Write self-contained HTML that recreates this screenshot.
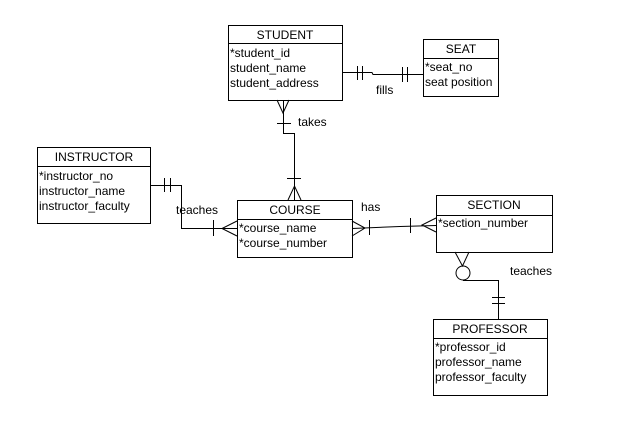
<!DOCTYPE html>
<html><head><style>
body{margin:0;background:#fff}
svg text{font-family:"Liberation Sans",Arial,sans-serif;font-size:12px;fill:#000}
</style></head><body>
<svg width="620" height="425" viewBox="0 0 620 425" xmlns="http://www.w3.org/2000/svg">
<g fill="none" stroke="#000" stroke-width="1" shape-rendering="crispEdges">
<rect x="228.5" y="25.5" width="114" height="75"/><line x1="228" y1="43.5" x2="343" y2="43.5"/>
<rect x="423.5" y="39.5" width="75" height="57"/><line x1="423" y1="58.5" x2="499" y2="58.5"/>
<rect x="37.5" y="147.5" width="113" height="76"/><line x1="37" y1="166.5" x2="151" y2="166.5"/>
<rect x="237.5" y="200.5" width="115" height="57"/><line x1="237" y1="219.5" x2="353" y2="219.5"/>
<rect x="436.5" y="195.5" width="116" height="57"/><line x1="436" y1="215.5" x2="553" y2="215.5"/>
<rect x="433.5" y="319.5" width="114" height="76"/><line x1="433" y1="338.5" x2="548" y2="338.5"/>
</g>
<g fill="none" stroke="#000" stroke-width="1">
<!-- student-seat -->
<polyline points="342,72.5 372,72.5 373,74.5 423,74.5"/>
<line x1="357.5" y1="66" x2="357.5" y2="80"/><line x1="362.5" y1="66" x2="362.5" y2="80"/>
<line x1="402.5" y1="67" x2="402.5" y2="82"/><line x1="407.5" y1="67" x2="407.5" y2="82"/>
<!-- student-course -->
<polyline points="277,100 283,113 289,100"/>
<polyline points="283.5,100 283.5,133.5 294.5,133.5 294.5,200"/>
<line x1="277" y1="123.5" x2="291" y2="123.5"/>
<line x1="287" y1="178.5" x2="301" y2="178.5"/>
<polyline points="288,200 294.5,186 301,200"/>
<!-- instructor-course -->
<polyline points="150,185.5 181.5,185.5 181.5,228.5 237,228.5"/>
<line x1="164.5" y1="178" x2="164.5" y2="192"/><line x1="170.5" y1="178" x2="170.5" y2="192"/>
<line x1="213.5" y1="220" x2="213.5" y2="236"/>
<polyline points="237,221 222,228.5 237,236"/>
<!-- course-section -->
<polyline points="352,221 365,228 352,236"/>
<polyline points="352,228.5 400,226.5 436,225.5"/>
<line x1="369.5" y1="220" x2="369.5" y2="235"/>
<line x1="410.5" y1="218" x2="410.5" y2="233"/>
<polyline points="436,218 422,225 436,232"/>
<!-- section-professor -->
<polyline points="455,252 462.5,266 469,252"/>
<circle cx="463" cy="273" r="7"/>
<polyline points="463,280.5 498.5,280.5 498.5,319"/>
<line x1="492" y1="297.5" x2="505" y2="297.5"/><line x1="492" y1="303.5" x2="505" y2="303.5"/>
</g>
<text x="285" y="39" text-anchor="middle">STUDENT</text>
<text x="230" y="57">*student_id</text>
<text x="230" y="72">student_name</text>
<text x="230" y="87">student_address</text>
<text x="461" y="53" text-anchor="middle">SEAT</text>
<text x="425" y="71">*seat_no</text>
<text x="425" y="86">seat position</text>
<text x="94" y="161" text-anchor="middle">INSTRUCTOR</text>
<text x="39" y="180">*instructor_no</text>
<text x="39" y="195">instructor_name</text>
<text x="39" y="210">instructor_faculty</text>
<text x="295" y="214" text-anchor="middle">COURSE</text>
<text x="239" y="232">*course_name</text>
<text x="239" y="247">*course_number</text>
<text x="494" y="209" text-anchor="middle">SECTION</text>
<text x="438" y="227">*section_number</text>
<text x="490" y="333" text-anchor="middle">PROFESSOR</text>
<text x="435" y="351">*professor_id</text>
<text x="435" y="366">professor_name</text>
<text x="435" y="381">professor_faculty</text>
<text x="376" y="94">fills</text>
<text x="298" y="126">takes</text>
<text x="176" y="214">teaches</text>
<text x="361" y="211">has</text>
<text x="510" y="275">teaches</text>
</svg>
</body></html>
